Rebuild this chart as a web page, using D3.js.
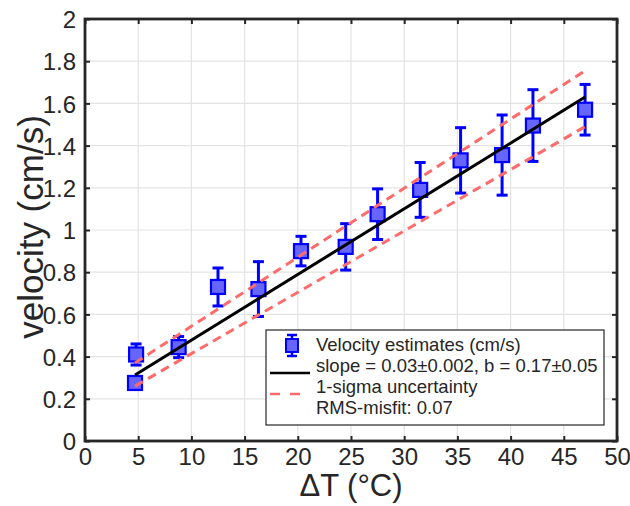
<!DOCTYPE html>
<html>
	<head>
		<meta charset="utf-8">
		<script type="text/javascript" src="https://cdn.jsdelivr.net/npm/d3@7"></script>
		<style>
			body { margin: 0; background: #fff; }
			text { font-family: "Liberation Sans", Arial, sans-serif; fill: #262626; }
		</style>
	</head>
<body>
	<script type="text/javascript">
		var w = 630;
		var h = 506;
		var padding = {
			left: 85,
			right: 13,
			top: 19,
			bottom: 65
		};

		// velocity estimates
		var deltaT = [4.7, 4.8, 8.8, 12.5, 16.3, 20.3, 24.5, 27.5, 31.5, 35.3, 39.2, 42.1, 47.0];
		var velocity = [0.275, 0.41, 0.445, 0.73, 0.72, 0.90, 0.92, 1.075, 1.19, 1.33, 1.355, 1.495, 1.57];
		var velErr = [0.02, 0.05, 0.05, 0.09, 0.13, 0.07, 0.11, 0.12, 0.13, 0.155, 0.19, 0.17, 0.12];

		// fit line and 1-sigma bounds (end points)
		var fitX = [4.7, 47];
		var fitY = [0.313, 1.63];
		var upperY = [0.37, 1.755];
		var lowerY = [0.26, 1.49];

		var xTicks = [0, 5, 10, 15, 20, 25, 30, 35, 40, 45, 50];
		var yTicks = [0, 0.2, 0.4, 0.6, 0.8, 1, 1.2, 1.4, 1.6, 1.8, 2];
		var legendLabels = ["Velocity estimates (cm/s)", "slope = 0.03\u00b10.002, b = 0.17\u00b10.05", "1-sigma uncertainty", "RMS-misfit: 0.07"];

		var blue = "#0000ff";
		var blueFill = "#6666ff";
		var red = "#ff6b6b";

		var xScale = d3.scaleLinear().domain([0, 50]).range([padding.left, w - padding.right]);
		var yScale = d3.scaleLinear().domain([0, 2]).range([h - padding.bottom, padding.top]);

		var svg = d3.select("body")
			.append("svg")
			.attr("width", w)
			.attr("height", h);

		// grid
		svg.append("g")
			.selectAll("line.gx")
			.data(xTicks.slice(1, -1))
			.enter()
			.append("line")
			.attr("x1", function (d) { return xScale(d); })
			.attr("x2", function (d) { return xScale(d); })
			.attr("y1", yScale(0))
			.attr("y2", yScale(2))
			.attr("stroke", "#e3e3e3")
			.attr("stroke-width", 1.2);

		svg.append("g")
			.selectAll("line.gy")
			.data(yTicks.slice(1, -1))
			.enter()
			.append("line")
			.attr("x1", xScale(0))
			.attr("x2", xScale(50))
			.attr("y1", function (d) { return yScale(d); })
			.attr("y2", function (d) { return yScale(d); })
			.attr("stroke", "#e3e3e3")
			.attr("stroke-width", 1.2);

		// axes, ticks pointing inward
		var xAxis = d3.axisBottom(xScale).tickValues(xTicks).tickSizeInner(-5).tickSizeOuter(0).tickPadding(7);
		var yAxis = d3.axisLeft(yScale).tickValues(yTicks).tickSizeInner(-5).tickSizeOuter(0).tickPadding(9)
			.tickFormat(d3.format("~g"));
		var xTop = d3.axisTop(xScale).tickValues(xTicks).tickSizeInner(-5).tickSizeOuter(0).tickFormat("");
		var yRight = d3.axisRight(yScale).tickValues(yTicks).tickSizeInner(-5).tickSizeOuter(0).tickFormat("");

		function styleAxis(g) {
			g.select(".domain").remove();
			g.selectAll(".tick line").attr("stroke", "#262626").attr("stroke-width", 2);
			g.selectAll(".tick text").style("font-size", "24px").attr("fill", "#262626");
		}

		svg.append("g")
			.attr("transform", "translate(0," + yScale(0) + ")")
			.call(xAxis)
			.call(styleAxis);
		svg.append("g")
			.attr("transform", "translate(" + xScale(0) + ",0)")
			.call(yAxis)
			.call(styleAxis)
			.selectAll(".tick text")
			.attr("dy", "0.36em");
		svg.append("g")
			.attr("transform", "translate(0," + yScale(2) + ")")
			.call(xTop)
			.call(styleAxis);
		svg.append("g")
			.attr("transform", "translate(" + xScale(50) + ",0)")
			.call(yRight)
			.call(styleAxis);

		svg.append("rect")
			.attr("x", xScale(0))
			.attr("y", yScale(2))
			.attr("width", xScale(50) - xScale(0))
			.attr("height", yScale(0) - yScale(2))
			.attr("fill", "none")
			.attr("stroke", "#262626")
			.attr("stroke-width", 2.8);

		// error bars
		var pts = deltaT.map(function (d, i) {
			return { x: d, y: velocity[i], e: velErr[i] };
		});

		var eb = svg.append("g").selectAll("g")
			.data(pts)
			.enter()
			.append("g")
			.attr("stroke", blue)
			.attr("stroke-width", 3);
		eb.append("line")
			.attr("x1", function (d) { return xScale(d.x); })
			.attr("x2", function (d) { return xScale(d.x); })
			.attr("y1", function (d) { return yScale(d.y - d.e); })
			.attr("y2", function (d) { return yScale(d.y + d.e); });
		eb.append("line")
			.attr("x1", function (d) { return xScale(d.x) - 5.5; })
			.attr("x2", function (d) { return xScale(d.x) + 5.5; })
			.attr("y1", function (d) { return yScale(d.y + d.e); })
			.attr("y2", function (d) { return yScale(d.y + d.e); });
		eb.append("line")
			.attr("x1", function (d) { return xScale(d.x) - 5.5; })
			.attr("x2", function (d) { return xScale(d.x) + 5.5; })
			.attr("y1", function (d) { return yScale(d.y - d.e); })
			.attr("y2", function (d) { return yScale(d.y - d.e); });

		// markers
		svg.append("g").selectAll("rect")
			.data(pts)
			.enter()
			.append("rect")
			.attr("x", function (d) { return xScale(d.x) - 7; })
			.attr("y", function (d) { return yScale(d.y) - 7; })
			.attr("width", 14)
			.attr("height", 14)
			.attr("fill", blueFill)
			.attr("stroke", blue)
			.attr("stroke-width", 2.2);

		// fit lines
		var line = d3.line()
			.x(function (d) { return xScale(d[0]); })
			.y(function (d) { return yScale(d[1]); });

		svg.append("path")
			.attr("d", line(d3.zip(fitX, upperY)))
			.attr("fill", "none")
			.attr("stroke", red)
			.attr("stroke-width", 3)
			.attr("stroke-dasharray", "9,6");
		svg.append("path")
			.attr("d", line(d3.zip(fitX, lowerY)))
			.attr("fill", "none")
			.attr("stroke", red)
			.attr("stroke-width", 3)
			.attr("stroke-dasharray", "9,6");
		svg.append("path")
			.attr("d", line(d3.zip(fitX, fitY)))
			.attr("fill", "none")
			.attr("stroke", "#000")
			.attr("stroke-width", 3);

		// axis labels
		svg.append("text")
			.attr("x", (xScale(0) + xScale(50)) / 2)
			.attr("y", 496)
			.attr("text-anchor", "middle")
			.style("font-size", "31px")
			.text("\u0394T (\u00b0C)");

		svg.append("text")
			.attr("transform", "translate(43," + ((yScale(0) + yScale(2)) / 2 - 3) + ") rotate(-90)")
			.attr("text-anchor", "middle")
			.style("font-size", "35px")
			.text("velocity (cm/s)");

		// legend
		var lg = svg.append("g").attr("transform", "translate(266,330)");
		lg.append("rect")
			.attr("width", 338)
			.attr("height", 95)
			.attr("fill", "#fff")
			.attr("stroke", "#262626")
			.attr("stroke-width", 1.2);

		lg.append("line").attr("x1", 26).attr("x2", 26).attr("y1", 5).attr("y2", 26)
			.attr("stroke", blue).attr("stroke-width", 2.5);
		lg.append("line").attr("x1", 21).attr("x2", 31).attr("y1", 5).attr("y2", 5)
			.attr("stroke", blue).attr("stroke-width", 2.5);
		lg.append("line").attr("x1", 21).attr("x2", 31).attr("y1", 26).attr("y2", 26)
			.attr("stroke", blue).attr("stroke-width", 2.5);
		lg.append("rect").attr("x", 20).attr("y", 9).attr("width", 12).attr("height", 13)
			.attr("fill", blueFill).attr("stroke", blue).attr("stroke-width", 2);

		lg.append("line").attr("x1", 4).attr("x2", 44).attr("y1", 43).attr("y2", 43)
			.attr("stroke", "#000").attr("stroke-width", 2.5);
		lg.append("line").attr("x1", 4).attr("x2", 44).attr("y1", 64).attr("y2", 64)
			.attr("stroke", red).attr("stroke-width", 2.5).attr("stroke-dasharray", "10,10");

		lg.selectAll("text")
			.data(legendLabels)
			.enter()
			.append("text")
			.attr("x", 50)
			.attr("y", function (d, i) { return 15 + i * 21; })
			.attr("dy", "0.35em")
			.style("font-size", "18.5px")
			.text(function (d) { return d; });
	</script>
</body>
</html>
